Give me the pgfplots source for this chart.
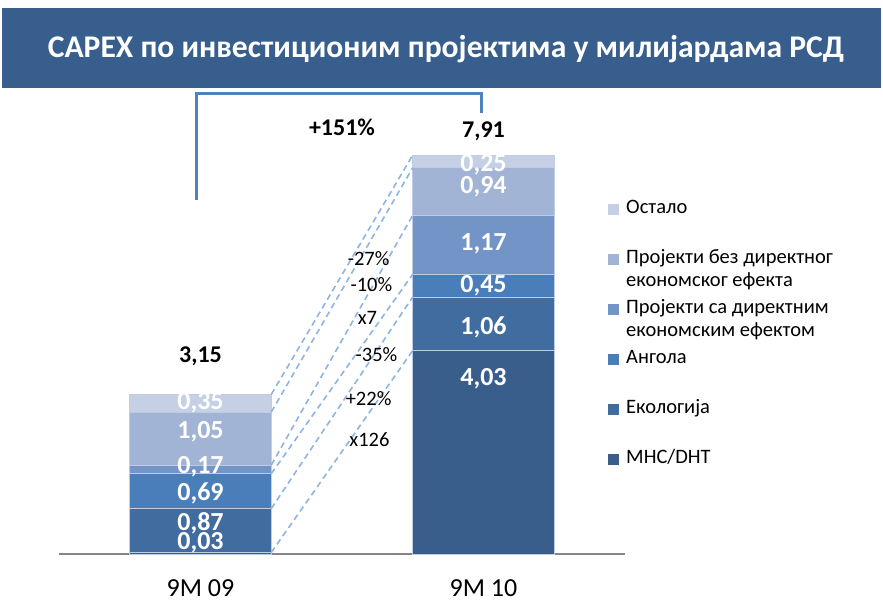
\documentclass[border=0pt]{standalone}
\usepackage{pgfplots}
\pgfplotsset{compat=1.18}
\usepackage{fontspec}
\setmainfont{Carlito}
\definecolor{cMHC}{RGB}{58,94,140}
\definecolor{cEko}{RGB}{65,108,160}
\definecolor{cAng}{RGB}{74,126,187}
\definecolor{cSa}{RGB}{114,148,199}
\definecolor{cBez}{RGB}{161,180,214}
\definecolor{cOst}{RGB}{197,208,228}
\definecolor{banner}{RGB}{56,94,141}
\definecolor{bracketc}{RGB}{79,129,189}
\definecolor{dashc}{RGB}{141,180,226}
\definecolor{axisgray}{RGB}{134,134,134}
\definecolor{segline}{RGB}{190,205,228}
\pgfplotsset{sqlegend/.style={legend image code/.code={\fill[##1,draw=none] (0pt,-5.5pt) rectangle (11pt,5.5pt);}}}
\begin{document}
\begin{tikzpicture}[x=1pt,y=1pt]
\useasboundingbox (0,0) rectangle (883,610);
\fill[banner] (2,522) rectangle (881,602);
\node[text=white, font=\fontsize{31.6}{36}\selectfont\bfseries] at (446,561) {CAPEX по инвестиционим пројектима у милијардама РСД};
\begin{axis}[
  at={(59pt,56pt)}, anchor=south west, scale only axis,
  width=566pt, height=479.75pt,
  xmin=-0.5, xmax=1.5, ymin=0, ymax=9.5,
  ybar stacked, bar width=0.5,
  axis x line*=bottom, axis y line=none,
  x axis line style={draw=axisgray, line width=2pt, -},
  xtick={0,1}, xticklabels={9M 09,9M 10},
  major tick length=0pt,
  xticklabel style={font=\fontsize{26}{30}\selectfont, text=black, anchor=center, yshift=-34pt},
  clip=false,
  reverse legend,
  legend cell align=left,
  legend style={at={(0.970,0.742)}, anchor=north west, draw=none, fill=none, inner sep=0pt,
    row sep=27pt,
    nodes={inner sep=0pt, text height=15pt, text depth=8pt, font=\fontsize{20.5}{23}\selectfont, text=black},
    /tikz/every odd column/.append style={column sep=7pt}},
]
\addplot[fill=cMHC, draw=segline, line width=0.6pt, sqlegend] coordinates {(0,0.03) (1,4.03)};
\addlegendentry{МНС/DHT}
\addplot[fill=cEko, draw=segline, line width=0.6pt, sqlegend] coordinates {(0,0.87) (1,1.06)};
\addlegendentry{Екологија}
\addplot[fill=cAng, draw=segline, line width=0.6pt, sqlegend] coordinates {(0,0.69) (1,0.45)};
\addlegendentry{Ангола}
\addplot[fill=cSa, draw=segline, line width=0.6pt, sqlegend] coordinates {(0,0.17) (1,1.17)};
\addlegendentry{\begin{tabular}[t]{@{}l@{}}Пројекти са директним\\економским ефектом\end{tabular}}
\addplot[fill=cBez, draw=segline, line width=0.6pt, sqlegend] coordinates {(0,1.05) (1,0.94)};
\addlegendentry{\begin{tabular}[t]{@{}l@{}}Пројекти без директног\\економског ефекта\end{tabular}}
\addplot[fill=cOst, draw=segline, line width=0.6pt, sqlegend] coordinates {(0,0.35) (1,0.25)};
\addlegendentry{Остало}
\end{axis}
\begin{axis}[
  at={(59pt,56pt)}, anchor=south west, scale only axis,
  width=566pt, height=479.75pt,
  xmin=-0.5, xmax=1.5, ymin=0, ymax=9.5,
  axis lines=none, clip=false,
  lbl/.style={mark=none, draw=none, nodes near coords, point meta=explicit symbolic},
]
\addplot[dashc, line width=1.6pt, dash pattern=on 6pt off 4pt] coordinates {(0.25,0.03) (0.75,4.03)};
\addplot[dashc, line width=1.6pt, dash pattern=on 6pt off 4pt] coordinates {(0.25,0.90) (0.75,5.09)};
\addplot[dashc, line width=1.6pt, dash pattern=on 6pt off 4pt] coordinates {(0.25,1.59) (0.75,5.54)};
\addplot[dashc, line width=1.6pt, dash pattern=on 6pt off 4pt] coordinates {(0.25,1.76) (0.75,6.71)};
\addplot[dashc, line width=1.6pt, dash pattern=on 6pt off 4pt] coordinates {(0.25,2.81) (0.75,7.65)};
\addplot[dashc, line width=1.6pt, dash pattern=on 6pt off 4pt] coordinates {(0.25,3.16) (0.75,7.90)};
\addplot[bracketc, line width=3pt] coordinates {(-0.014,7.01) (-0.014,9.11) (0.993,9.11) (0.993,8.73)};
\addplot[lbl, nodes near coords style={anchor=center, text=white, font=\fontsize{26}{30}\selectfont\bfseries}]
  table[meta=lab] {
x y lab
0 2.99 0,35
0 2.42 1,05
0 1.72 0,17
0 1.21 0,69
0 0.61 0,87
0 0.22 0,03
1 7.70 0,25
1 7.27 0,94
1 6.14 1,17
1 5.31 0,45
1 4.48 1,06
1 3.47 4,03
};
\addplot[lbl, nodes near coords style={anchor=center, text=black, font=\fontsize{24}{28}\selectfont\bfseries}]
  table[meta=lab] {
x y lab
0 3.92 3,15
1 8.38 7,91
0.50 8.44 +151\%
};
\addplot[lbl, nodes near coords style={anchor=center, text=black, font=\fontsize{20.5}{24}\selectfont}]
  table[meta=lab] {
x y lab
0.594 5.84 -27\%
0.604 5.33 -10\%
0.590 4.67 x7
0.622 3.94 -35\%
0.594 3.07 +22\%
0.597 2.26 x126
};
\end{axis}
\end{tikzpicture}
\end{document}
